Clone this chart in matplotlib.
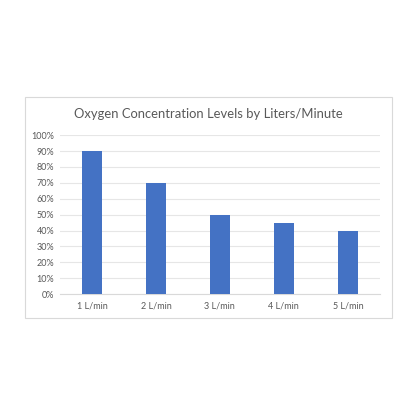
import matplotlib
matplotlib.use("Agg")
import matplotlib.pyplot as plt
from matplotlib.patches import Rectangle
from matplotlib.ticker import PercentFormatter

categories = ["1 L/min", "2 L/min", "3 L/min", "4 L/min", "5 L/min"]
concentration = [90, 70, 50, 45, 40]
y_ticks = list(range(0, 101, 10))

plt.rcParams["font.family"] = ["Lato", "DejaVu Sans"]

fig = plt.figure(figsize=(4.16, 4.16), dpi=100)
fig.patch.set_facecolor("white")

# chart frame, like the spreadsheet chart area
fig.patches.append(Rectangle((0.060, 0.236), 0.882, 0.531, transform=fig.transFigure,
                             facecolor="white", edgecolor="#d9d9d9", linewidth=0.8, zorder=-1))

ax = fig.add_axes([0.144, 0.293, 0.769, 0.382])
ax.patch.set_alpha(0)
ax.bar(categories, concentration, width=0.32, color="#4472C4", zorder=3)

ax.set_ylim(0, 100)
ax.set_xlim(-0.5, len(categories) - 0.5)
ax.set_yticks(y_ticks)
ax.yaxis.set_major_formatter(PercentFormatter(decimals=0))
ax.grid(axis="y", color="#e6e6e6", linewidth=0.8, zorder=0)
for s in ax.spines.values():
    s.set_visible(False)
ax.spines["bottom"].set_visible(True)
ax.spines["bottom"].set_color("#d9d9d9")
ax.tick_params(length=0, labelsize=6.5, labelcolor="#595959", pad=4)
ax.tick_params(axis="x", pad=5)

fig.text(0.5, 0.726, "Oxygen Concentration Levels by Liters/Minute", ha="center", va="center",
         fontsize=9.4, color="#595959")

fig.savefig("out.png", dpi=100)
